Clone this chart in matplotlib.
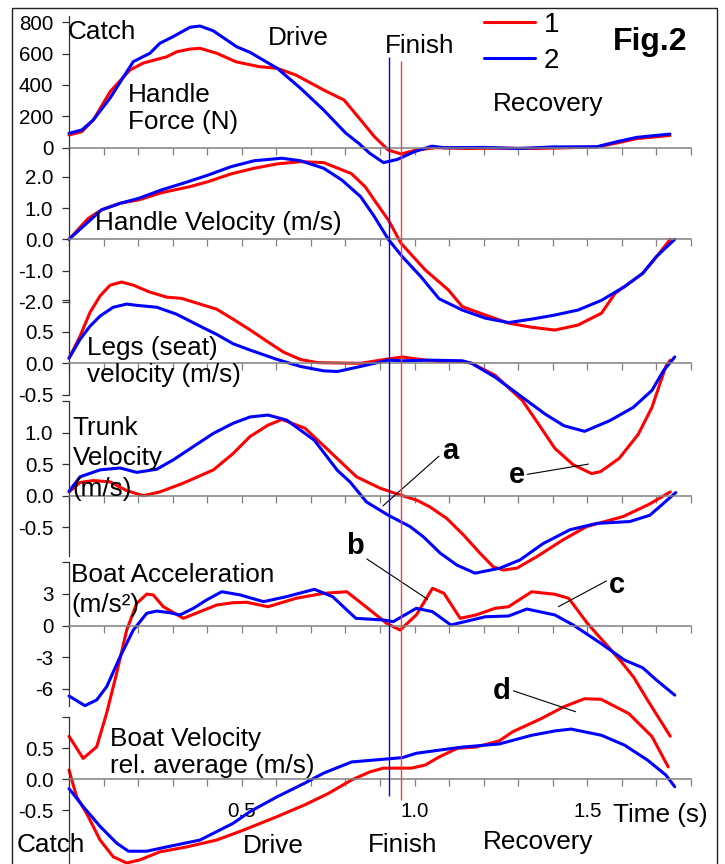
import numpy as np
import matplotlib
matplotlib.use('Agg')
import matplotlib.pyplot as plt
from matplotlib.patches import Rectangle
from matplotlib.transforms import Affine2D

plt.rcParams['font.family'] = ['Liberation Sans', 'DejaVu Sans']

## values: time (s), curve 1 = red, curve 2 = blue
force_t1 = [0, 0.037, 0.07, 0.119, 0.176, 0.215, 0.283, 0.312, 0.35, 0.379, 0.428, 0.483, 0.55, 0.603, 0.657,
            0.737, 0.796, 0.844, 0.884, 0.924, 0.961, 1.005, 1.06, 1.15, 1.25, 1.35, 1.45, 1.53, 1.585, 1.643, 1.739]
force_1 = [81, 102, 176, 357, 495, 540, 580, 612, 629, 634, 602, 548, 517, 506, 463,
           368, 304, 177, 70, -15, -40, -15, 0, -5, -3, -5, 0, 5, 30, 58, 78]
force_t2 = [0, 0.037, 0.07, 0.119, 0.186, 0.234, 0.263, 0.301, 0.35, 0.379, 0.417, 0.485, 0.524, 0.603, 0.67,
            0.737, 0.80, 0.84, 0.87, 0.91, 0.95, 1.0, 1.05, 1.085, 1.2, 1.3, 1.4, 1.527, 1.585, 1.643, 1.739]
force_2 = [92, 113, 176, 317, 549, 602, 666, 708, 768, 776, 746, 644, 608, 506, 379,
           240, 95, 25, -35, -95, -75, -25, 10, 0, 2, -5, 5, 6, 38, 66, 87]

hvel_t1 = [0, 0.056, 0.094, 0.148, 0.202, 0.268, 0.349, 0.402, 0.469, 0.536, 0.603, 0.67, 0.737, 0.817, 0.857,
           0.897, 0.924, 0.961, 1.031, 1.098, 1.138, 1.205, 1.272, 1.339, 1.406, 1.473, 1.541, 1.58, 1.66, 1.70, 1.74]
hvel_1 = [0, 0.67, 0.94, 1.15, 1.26, 1.49, 1.68, 1.84, 2.09, 2.27, 2.41, 2.48, 2.45, 2.10, 1.68,
          1.04, 0.62, -0.13, -0.98, -1.62, -2.15, -2.42, -2.68, -2.81, -2.90, -2.74, -2.36, -1.73, -1.09, -0.56, 0]
hvel_t2 = [0, 0.056, 0.094, 0.148, 0.202, 0.268, 0.336, 0.402, 0.469, 0.536, 0.616, 0.67, 0.737, 0.79, 0.844,
           0.884, 0.924, 0.965, 1.018, 1.071, 1.138, 1.205, 1.272, 1.339, 1.406, 1.473, 1.541, 1.608, 1.66, 1.70, 1.753]
hvel_2 = [0, 0.56, 0.94, 1.15, 1.31, 1.58, 1.81, 2.05, 2.32, 2.51, 2.59, 2.51, 2.27, 1.89, 1.36,
          0.72, 0, -0.56, -1.19, -1.90, -2.26, -2.52, -2.66, -2.55, -2.42, -2.26, -1.95, -1.51, -1.09, -0.55, 0]

legs_t1 = [0, 0.032, 0.061, 0.09, 0.119, 0.152, 0.186, 0.234, 0.283, 0.326, 0.379, 0.427, 0.475, 0.524, 0.57,
           0.62, 0.67, 0.72, 0.844, 0.924, 0.965, 1.018, 1.071, 1.138, 1.165, 1.233, 1.312, 1.352, 1.406, 1.459,
           1.512, 1.538, 1.592, 1.647, 1.687, 1.727, 1.74]
legs_1 = [0.08, 0.43, 0.81, 1.07, 1.24, 1.29, 1.24, 1.13, 1.05, 1.03, 0.94, 0.86, 0.70, 0.53, 0.36,
          0.18, 0.06, 0.01, 0.0, 0.07, 0.10, 0.06, 0.03, 0.03, 0, -0.19, -0.59, -0.91, -1.35, -1.61,
          -1.75, -1.72, -1.51, -1.13, -0.70, -0.05, 0.05]
legs_t2 = [0, 0.032, 0.061, 0.09, 0.128, 0.167, 0.196, 0.254, 0.311, 0.379, 0.427, 0.475, 0.524, 0.603, 0.67,
           0.737, 0.777, 0.844, 0.924, 0.965, 1.045, 1.138, 1.165, 1.233, 1.312, 1.379, 1.432, 1.492, 1.565,
           1.633, 1.687, 1.72, 1.753]
legs_2 = [0.08, 0.38, 0.59, 0.75, 0.89, 0.94, 0.92, 0.89, 0.78, 0.59, 0.46, 0.31, 0.21, 0.06, -0.05,
          -0.12, -0.13, -0.05, 0.05, 0.04, 0.05, 0.04, 0, -0.22, -0.54, -0.81, -0.99, -1.08, -0.91,
          -0.70, -0.43, -0.12, 0.1]

trunk_t1 = [0, 0.032, 0.07, 0.119, 0.167, 0.215, 0.263, 0.331, 0.418, 0.475, 0.524, 0.576, 0.616, 0.683, 0.755,
            0.832, 0.90, 0.948, 1.006, 1.045, 1.093, 1.141, 1.189, 1.228, 1.257, 1.296, 1.353, 1.43, 1.498, 1.604,
            1.681, 1.74]
trunk_1 = [0.06, 0.21, 0.24, 0.22, 0.08, 0.0, 0.06, 0.20, 0.41, 0.67, 0.94, 1.12, 1.21, 1.07, 0.70,
           0.30, 0.12, 0.03, -0.07, -0.18, -0.36, -0.62, -0.91, -1.13, -1.18, -1.15, -0.97, -0.70, -0.49, -0.33,
           -0.13, 0.06]
trunk_t2 = [0, 0.032, 0.09, 0.148, 0.196, 0.254, 0.302, 0.36, 0.418, 0.475, 0.524, 0.576, 0.63, 0.71, 0.777,
            0.813, 0.861, 0.924, 0.987, 1.025, 1.074, 1.122, 1.175, 1.247, 1.305, 1.372, 1.45, 1.527, 1.623, 1.681,
            1.756]
trunk_2 = [0.07, 0.30, 0.41, 0.44, 0.37, 0.42, 0.57, 0.78, 0.99, 1.15, 1.25, 1.28, 1.20, 0.88, 0.40,
           0.22, -0.10, -0.31, -0.49, -0.65, -0.91, -1.10, -1.23, -1.15, -1.02, -0.76, -0.54, -0.44, -0.41, -0.31,
           0.05]

acc_t1 = [0, 0.041, 0.08, 0.109, 0.138, 0.167, 0.196, 0.225, 0.244, 0.273, 0.331, 0.379, 0.427, 0.475, 0.514,
          0.576, 0.657, 0.737, 0.804, 0.871, 0.919, 0.958, 1.005, 1.052, 1.085, 1.132, 1.178, 1.233, 1.272, 1.339,
          1.406, 1.446, 1.5, 1.568, 1.6, 1.634, 1.674, 1.74]
acc_1 = [-10.5, -12.6, -11.5, -8.3, -4.5, -0.43, 2.1, 2.98, 2.89, 1.78, 0.68, 1.31, 1.94, 2.16, 2.2,
         1.78, 2.58, 3.05, 3.2, 1.47, 0.21, -0.43, 1.0, 3.53, 3.05, 0.68, 1.0, 1.63, 1.78, 3.2,
         2.96, 2.58, 0.21, -2.3, -3.5, -4.9, -7.06, -10.5]
acc_t2 = [0, 0.046, 0.08, 0.109, 0.148, 0.186, 0.225, 0.254, 0.292, 0.321, 0.36, 0.398, 0.442, 0.495, 0.563,
          0.629, 0.71, 0.763, 0.83, 0.911, 0.938, 1.005, 1.052, 1.105, 1.205, 1.272, 1.325, 1.406, 1.459, 1.539,
          1.607, 1.66, 1.70, 1.753]
acc_2 = [-6.68, -7.6, -7.06, -5.8, -2.96, -0.43, 1.16, 1.37, 1.21, 1.0, 1.63, 2.42, 3.2, 2.9, 2.26,
         2.73, 3.43, 2.73, 0.68, 0.52, 0.36, 1.63, 1.31, 0.05, 0.83, 0.9, 1.56, 1.0, 0.05, -1.69,
         -3.27, -4.0, -5.17, -6.6]

bvel_t1 = [0, 0.022, 0.051, 0.09, 0.128, 0.167, 0.205, 0.263, 0.341, 0.427, 0.5, 0.603, 0.683, 0.75, 0.818,
           0.871, 0.91, 0.991, 1.031, 1.071, 1.124, 1.178, 1.245, 1.285, 1.367, 1.432, 1.492, 1.54, 1.62, 1.687, 1.734]
bvel_1 = [0.15, -0.28, -0.55, -0.98, -1.25, -1.35, -1.30, -1.17, -1.09, -0.98, -0.83, -0.60, -0.41, -0.23, -0.01,
          0.12, 0.18, 0.18, 0.23, 0.36, 0.50, 0.52, 0.62, 0.77, 0.98, 1.17, 1.30, 1.29, 1.06, 0.69, 0.20]
bvel_t2 = [0, 0.041, 0.09, 0.138, 0.172, 0.225, 0.283, 0.379, 0.475, 0.524, 0.603, 0.683, 0.737, 0.818, 0.924,
           0.965, 1.005, 1.071, 1.139, 1.245, 1.339, 1.406, 1.453, 1.541, 1.608, 1.674, 1.727, 1.753]
bvel_2 = [-0.15, -0.44, -0.76, -1.03, -1.16, -1.16, -1.09, -0.98, -0.71, -0.52, -0.28, -0.06, 0.10, 0.28, 0.33,
          0.35, 0.42, 0.47, 0.52, 0.57, 0.71, 0.78, 0.81, 0.71, 0.55, 0.31, 0.07, -0.12]

finish_1 = 0.960
finish_2 = 0.926
series_names = ['1', '2']

RED, BLUE = '#ff0000', '#0000ff'
W, H = 725, 864
X0, X1, TMAX = 69, 691, 1.8

fig = plt.figure(figsize=(W / 100, H / 100), dpi=100)
PX = Affine2D().scale(1 / W, -1 / H).translate(0, 1) + fig.transFigure


def panel(zero_px, ppu, lo, hi, yticks, ylabels):
    """one stacked panel: zero line at zero_px, ppu pixels per unit"""
    top = zero_px - hi * ppu
    bot = zero_px - lo * ppu
    ax = fig.add_axes([X0 / W, 1 - bot / H, (X1 - X0) / W, (bot - top) / H])
    ax.set_xlim(0, TMAX)
    ax.set_ylim(lo, hi)
    ax.patch.set_visible(False)
    ax.spines['top'].set_visible(False)
    ax.spines['right'].set_visible(False)
    ax.spines['bottom'].set_position(('data', 0))
    ax.spines['bottom'].set_color('#808080')
    ax.spines['bottom'].set_linewidth(1.1)
    ax.spines['left'].set_color('#333333')
    ax.spines['left'].set_linewidth(0.9)
    ax.set_xticks(np.arange(0, TMAX + 0.01, 0.1))
    ax.set_xticklabels([])
    ax.tick_params(axis='x', direction='out', length=4.7, width=0.9, color='#808080')
    ax.set_yticks(yticks)
    ax.set_yticklabels(ylabels)
    ax.tick_params(axis='y', direction='out', length=4.7, width=0.9, color='#333333',
                   labelsize=14.8, pad=6.5)
    return ax


ax_f = panel(147.7, 0.1568, 0, 840, [0, 200, 400, 600, 800], ['0', '200', '400', '600', '800'])
ax_h = panel(239.3, 31.3, -2.0, 2.93, [-2, -1, 0, 1, 2], ['-2.0', '-1.0', '0.0', '1.0', '2.0'])
ax_l = panel(363.3, 63, -0.5, 1.0, [1.0, 0.5, 0, -0.5], ['', '0.5', '0.0', '-0.5'])
ax_t = panel(495.7, 63, -0.95, 1.5, [1.5, 1.0, 0.5, 0, -0.5], ['', '1.0', '0.5', '0.0', '-0.5'])
ax_a = panel(625.5, 10.55, -7.6, 6.0, [6, 3, 0, -3, -6], ['', '3', '0', '-3', '-6'])
ax_v = panel(779.3, 62, -1.5, 1.0, [1.0, 0.5, 0, -0.5], ['', '0.5', '0.0', '-0.5'])

xl = [''] * 19
xl[5], xl[10], xl[15] = '0.5', '1.0', '1.5'
ax_v.set_xticklabels(xl)
ax_v.tick_params(axis='x', labelsize=14.8, pad=11.4)

kw = dict(lw=2.2, clip_on=False, solid_capstyle='round', solid_joinstyle='round')
h1, = ax_f.plot(force_t1, force_1, color=RED, **kw)
h2, = ax_f.plot(force_t2, force_2, color=BLUE, **kw)
for ax, t1, y1, t2, y2 in [(ax_h, hvel_t1, hvel_1, hvel_t2, hvel_2),
                           (ax_l, legs_t1, legs_1, legs_t2, legs_2),
                           (ax_t, trunk_t1, trunk_1, trunk_t2, trunk_2),
                           (ax_a, acc_t1, acc_1, acc_t2, acc_2),
                           (ax_v, bvel_t1, bvel_1, bvel_t2, bvel_2)]:
    ax.plot(t1, y1, color=RED, **kw)
    ax.plot(t2, y2, color=BLUE, **kw)

# finish lines across all panels
ov = fig.add_axes([X0 / W, 0, (X1 - X0) / W, 1])
ov.set_xlim(0, TMAX)
ov.set_ylim(H, 0)
ov.axis('off')
ov.vlines(finish_2, 57, 796, color=BLUE, lw=1.0)
ov.vlines(finish_1, 61, 800, color='#ff3a3a', lw=1.0)

# frame
fig.patches.append(Rectangle((11.7 / W, -0.01), (717 - 11.7) / W, 1 - 7.8 / H + 0.01,
                             transform=fig.transFigure, fill=False, ec='#222222', lw=1.0))

fs = 18.8
labels = [
    (68, 39.3, 'Catch'), (268, 45, 'Drive'), (385, 53, 'Finish'), (493, 110.7, 'Recovery'),
    (128, 101.7, 'Handle'), (128, 129.3, 'Force (N)'),
    (95, 230, 'Handle Velocity (m/s)'),
    (86.7, 355, 'Legs (seat)'), (86.7, 382, 'velocity (m/s)'),
    (72.7, 435, 'Trunk'), (72.7, 465.5, 'Velocity'), (72.7, 496, '(m/s)'),
    (71, 581.7, 'Boat Acceleration'), (71, 612, '(m/s²)'),
    (110, 746, 'Boat Velocity'), (110, 773, 'rel. average (m/s)'),
    (17, 852, 'Catch'), (243, 853, 'Drive'), (368, 851.7, 'Finish'), (483, 849.3, 'Recovery'),
    (613, 821.7, 'Time (s)'),
]
for x, y, s in labels:
    fig.text(x, y, s, transform=PX, fontsize=fs, ha='left', va='baseline')

fig.text(613, 50, 'Fig.2', transform=PX, fontsize=23, fontweight='bold', ha='left', va='baseline')

fig.legend([h1, h2], series_names, loc='upper left', bbox_to_anchor=(484 / W, 1 - 12 / H),
           frameon=False, fontsize=20, handlelength=1.85, handletextpad=0.3, labelspacing=0.35,
           borderpad=0, borderaxespad=0)

akw = dict(textcoords='data', ha='center', va='center', fontsize=21, fontweight='bold',
           annotation_clip=False)
lkw = dict(arrowstyle='-', color='black', lw=0.8, shrinkA=0, shrinkB=0)
ax_t.annotate('a', xy=(0.909, -0.16), xytext=(1.102, 0.71), arrowprops=dict(relpos=(0, 0.4), **lkw), **akw)
ax_l.annotate('e', xy=(1.503, -1.60), xytext=(1.295, -1.77), arrowprops=dict(relpos=(1, 0.5), **lkw), **akw)
ax_a.annotate('b', xy=(1.038, 2.48), xytext=(0.828, 7.55), arrowprops=dict(relpos=(1, 0.1), **lkw), **akw)
ax_a.annotate('c', xy=(1.416, 1.78), xytext=(1.587, 3.84), arrowprops=dict(relpos=(0, 0.7), **lkw), **akw)
ax_v.annotate('d', xy=(1.466, 1.09), xytext=(1.252, 1.42), arrowprops=dict(relpos=(1, 0.55), **lkw), **akw)

fig.savefig('out.png', dpi=100)
